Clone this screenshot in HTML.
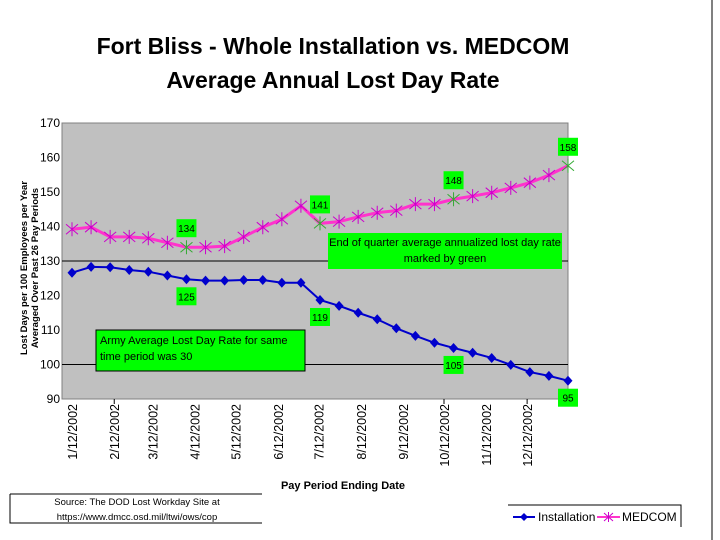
<!DOCTYPE html>
<html><head><meta charset="utf-8"><style>
body{margin:0;background:#fff;}
svg{display:block;font-family:"Liberation Sans",Arial,sans-serif;}
</style></head><body>
<svg id="c" width="720" height="540">
<text x="333" y="54" text-anchor="middle" font-size="23" font-weight="bold">Fort Bliss - Whole Installation vs. MEDCOM</text>
<text x="333" y="88" text-anchor="middle" font-size="23" font-weight="bold">Average Annual Lost Day Rate</text>
<rect x="62" y="123" width="506" height="276" fill="#c0c0c0" stroke="#808080"/>
<g id="grid"></g>
<g id="yt"></g>
<g id="xt"></g>
<g id="series"></g>
<text transform="translate(27,268) rotate(-90)" text-anchor="middle" font-size="9.5" font-weight="bold">Lost Days per 100 Employees per Year</text>
<text transform="translate(38,268) rotate(-90)" text-anchor="middle" font-size="9.5" font-weight="bold">Averaged Over Past 26 Pay Periods</text>
<text x="343" y="489" text-anchor="middle" font-size="11" font-weight="bold">Pay Period Ending Date</text>
<rect x="96" y="330" width="209" height="41" fill="#00ff00" stroke="#000"/>
<text x="100" y="344" font-size="11">Army Average Lost Day Rate for same</text>
<text x="100" y="360" font-size="11">time period was 30</text>
<rect x="328" y="233" width="234" height="36" fill="#00ff00"/>
<text x="445" y="246" text-anchor="middle" font-size="11">End of quarter average annualized lost day rate</text>
<text x="445" y="262" text-anchor="middle" font-size="11">marked by green</text>
<path d="M10 494 H262 M10 494 V523 H262" fill="none" stroke="#000"/>
<text x="137" y="505" text-anchor="middle" font-size="9.5">Source: The DOD Lost Workday Site at</text>
<text x="137" y="520" text-anchor="middle" font-size="9.5">https://www.dmcc.osd.mil/ltwi/ows/cop</text>
<path d="M508 505 H681 V527" fill="none" stroke="#000"/>
<g>
<line x1="513" y1="517" x2="535" y2="517" stroke="#0000cc" stroke-width="2"/>
<path d="M524 513 L528 517 L524 521 L520 517Z" fill="#0000cc"/>
<text x="538" y="521" font-size="12">Installation</text></g>
<g>
<line x1="597" y1="517" x2="620" y2="517" stroke="#ff33cc" stroke-width="2"/>
<path d="M604 513 L613 521 M613 513 L604 521 M608.5 512 V522" stroke="#cc00cc"/>
<text x="622" y="521" font-size="12">MEDCOM</text></g>
<line x1="712" y1="0" x2="712" y2="540" stroke="#000"/>
</svg>
<script>
const yTicks=[90,100,110,120,130,140,150,160,170];
const dateLabels=["1/12/2002","2/12/2002","3/12/2002","4/12/2002","5/12/2002","6/12/2002","7/12/2002","8/12/2002","9/12/2002","10/12/2002","11/12/2002","12/12/2002"];
const labelDays=[0,31,59,90,120,151,181,212,243,273,304,334];
const medcom=[139.2,139.8,137.0,137.0,136.6,135.3,134,134,134.3,137,139.8,142.1,146,140.9,141.4,142.8,144,144.6,146.5,146.5,147.9,148.8,149.8,151.2,152.7,154.9,157.6];
const installation=[126.6,128.3,128.2,127.4,126.9,125.8,124.7,124.3,124.3,124.5,124.5,123.7,123.7,118.7,117,115,113.1,110.5,108.3,106.3,104.8,103.4,101.9,99.9,97.8,96.7,95.3];
const quarterIdx=[6,13,20,26];
const medcomLabels=["134","141","148","158"];
const instLabels=["125","119","105","95"];
const NS="http://www.w3.org/2000/svg";
const y=v=>399-(v-90)/80*276;
const xi=i=>72+i*(496/26);
const xd=d=>72+d/364*496;
function mk(p,t,a){const e=document.createElementNS(NS,t);for(const k in a)e.setAttribute(k,a[k]);p.appendChild(e);return e;}
const grid=document.getElementById('grid'),yt=document.getElementById('yt'),xt=document.getElementById('xt'),S=document.getElementById('series');
[100,130].forEach(v=>{const l=mk(grid,'line',{x1:62,x2:568,y1:y(v),y2:y(v),stroke:'#000'});

});
yTicks.forEach(v=>{const t=mk(yt,'text',{x:60,y:y(v)+4,'text-anchor':'end','font-size':12});t.textContent=v;

});
dateLabels.forEach((s,i)=>{const x=xd(labelDays[i]);const t=mk(xt,'text',{transform:`translate(${x+5},404) rotate(-90)`,'text-anchor':'end','font-size':12.5});t.textContent=s;

});
[1,9,11].forEach(k=>{const x=xd(labelDays[k]);mk(xt,'line',{x1:x,x2:x,y1:399,y2:404,stroke:'#000'});});
function pts(a){return a.map((v,i)=>xi(i)+','+y(v)).join(' ');}
const lm=mk(S,'polyline',{points:pts(medcom),fill:'none',stroke:'#ff33cc','stroke-width':3});


const li=mk(S,'polyline',{points:pts(installation),fill:'none',stroke:'#0000cc','stroke-width':2});


medcom.forEach((v,i)=>{const c=quarterIdx.includes(i)?'#33aa33':'#cc00cc';const x=xi(i),yy=y(v);
const m=mk(S,'path',{d:`M${x-6} ${yy-5}L${x+6} ${yy+5}M${x+6} ${yy-5}L${x-6} ${yy+5}M${x} ${yy-7}V${yy+7}`,stroke:c,'stroke-width':1,fill:'none'});

});
installation.forEach((v,i)=>{const x=xi(i),yy=y(v);
const m=mk(S,'path',{d:`M${x} ${yy-5}L${x+4.5} ${yy}L${x} ${yy+5}L${x-4.5} ${yy}Z`,fill:'#0000cc'});

});
function lab(txt,x,yy,nm){const r=mk(S,'rect',{x:x-10,y:yy,width:20,height:18,fill:'#00ff00'});


const t=mk(S,'text',{x:x,y:yy+13,'text-anchor':'middle','font-size':10});t.textContent=txt;}
quarterIdx.forEach((k,j)=>{lab(medcomLabels[j],xi(k),y(medcom[k])-28,'medcom-quarter-label');
lab(instLabels[j],xi(k),y(installation[k])+8,'installation-quarter-label');});
</script>
</body></html>
